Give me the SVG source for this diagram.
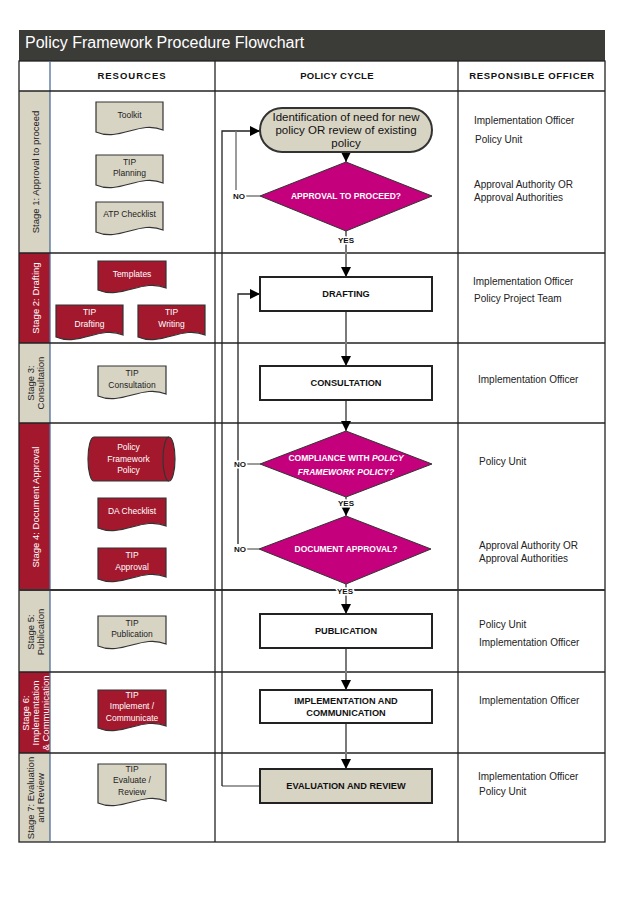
<svg xmlns="http://www.w3.org/2000/svg" width="636" height="900" viewBox="0 0 636 900">
<style>
text{font-family:"Liberation Sans",Arial,sans-serif;}
.grid{stroke:#222;stroke-width:1.3;fill:none;}
.tan{fill:#d8d4c4;stroke:#333;stroke-width:1.2;}
.red{fill:#a4182e;stroke:#333;stroke-width:1.2;}
.rt{font-size:8.5px;fill:#222;text-anchor:middle;}
.wt{font-size:8.5px;fill:#fff;text-anchor:middle;}
.hdr{font-size:9.5px;font-weight:bold;fill:#111;text-anchor:middle;}
.stg{font-size:9.5px;text-anchor:middle;}
.box{fill:#fff;stroke:#222;stroke-width:2;}
.boxt{font-size:9.2px;font-weight:bold;fill:#111;text-anchor:middle;}
.dia{fill:#c4007c;stroke:#333;stroke-width:1;}
.diat{font-size:8.5px;font-weight:bold;fill:#fff;text-anchor:middle;}
.off{font-size:10px;fill:#222;}
.flow{stroke:#7a7a7a;stroke-width:2;fill:none;}
.loop{stroke:#222;stroke-width:1.3;fill:none;}
.stub{stroke:#7a7a7a;stroke-width:1.5;fill:none;}
.lbl{font-size:8px;font-weight:bold;fill:#111;text-anchor:middle;stroke:#fff;stroke-width:3;paint-order:stroke;}
</style>
<defs>
<marker id="arr" viewBox="0 0 10 10" refX="10" refY="5" markerUnits="userSpaceOnUse" markerWidth="10" markerHeight="10" orient="auto">
<path d="M0,0 L10,5 L0,10 z" fill="#000"/>
</marker>
</defs>
<rect x="0" y="0" width="636" height="900" fill="#fff"/>

<g id="title">
<rect x="19" y="30" width="586" height="31" fill="#3b3b38"/>
<text x="25" y="48" font-size="16" fill="#fff">Policy Framework Procedure Flowchart</text>
</g>

<g id="table">
<rect x="19" y="91" width="31" height="162" fill="#d8d4c4"/>
<rect x="19" y="253" width="31" height="90" fill="#a4182e"/>
<rect x="19" y="343" width="31" height="80" fill="#d8d4c4"/>
<rect x="19" y="423" width="31" height="167" fill="#a4182e"/>
<rect x="19" y="590" width="31" height="82" fill="#d8d4c4"/>
<rect x="19" y="672" width="31" height="81" fill="#a4182e"/>
<rect x="19" y="753" width="31" height="89" fill="#d8d4c4"/>
<rect x="19" y="61" width="586" height="781" class="grid"/>
<line x1="50" y1="61" x2="50" y2="842" stroke="#4f6f98" stroke-width="1.3"/>
<line x1="215" y1="61" x2="215" y2="842" class="grid"/>
<line x1="458" y1="61" x2="458" y2="842" class="grid"/>
<line x1="19" y1="91" x2="605" y2="91" class="grid"/>
<line x1="19" y1="253" x2="605" y2="253" class="grid"/>
<line x1="19" y1="343" x2="605" y2="343" class="grid"/>
<line x1="19" y1="423" x2="605" y2="423" class="grid"/>
<line x1="19" y1="590" x2="605" y2="590" stroke="#333" stroke-width="2"/>
<line x1="19" y1="672" x2="605" y2="672" class="grid"/>
<line x1="19" y1="753" x2="605" y2="753" class="grid"/>
<text x="132" y="79" class="hdr" letter-spacing="1">RESOURCES</text>
<text x="337" y="79" class="hdr" letter-spacing="0.3">POLICY CYCLE</text>
<text x="532" y="79" class="hdr" letter-spacing="0.7">RESPONSIBLE OFFICER</text>
</g>

<g id="stage-labels">
<text class="stg" fill="#222" transform="translate(38.5,172) rotate(-90)">Stage 1: Approval to proceed</text>
<text class="stg" fill="#fff" transform="translate(39,298) rotate(-90)">Stage 2: Drafting</text>
<text class="stg" fill="#222" transform="translate(33.5,383) rotate(-90)">Stage 3:</text>
<text class="stg" fill="#222" transform="translate(43.5,383) rotate(-90)">Consultation</text>
<text class="stg" fill="#fff" transform="translate(38.5,507) rotate(-90)">Stage 4: Document Approval</text>
<text class="stg" fill="#222" transform="translate(33.5,632) rotate(-90)">Stage 5:</text>
<text class="stg" fill="#222" transform="translate(43.5,632) rotate(-90)">Publication</text>
<text class="stg" fill="#fff" transform="translate(28.5,713) rotate(-90)">Stage 6:</text>
<text class="stg" fill="#fff" transform="translate(38.5,713) rotate(-90)">Implementation</text>
<text class="stg" fill="#fff" transform="translate(49,713) rotate(-90)">&amp; Communication</text>
<text class="stg" fill="#222" transform="translate(33.5,798) rotate(-90)">Stage 7: Evaluation</text>
<text class="stg" fill="#222" transform="translate(43.5,798) rotate(-90)">and Review</text>
</g>

<g id="res-toolkit">
<path class="tan" d="M96,102 H163 V130 C139.6,120 119.5,142 96,132 Z"/>
<text class="rt" x="129.5" y="118">Toolkit</text>
</g>
<g id="res-tip-planning">
<path class="tan" d="M96,155 H163 V183 C139.6,173 119.5,195 96,185 Z"/>
<text class="rt" x="129.5" y="165">TIP</text>
<text class="rt" x="129.5" y="176">Planning</text>
</g>
<g id="res-atp-checklist">
<path class="tan" d="M96,202 H163 V230 C139.6,220 119.5,242 96,232 Z"/>
<text class="rt" x="129.5" y="217">ATP Checklist</text>
</g>
<g id="res-templates">
<path class="red" d="M98,261 H166 V288 C142.2,278 121.8,300 98,290 Z"/>
<text class="wt" x="132" y="277">Templates</text>
</g>
<g id="res-tip-drafting">
<path class="red" d="M56,305 H123 V335 C99.6,325 79.5,347 56,337 Z"/>
<text class="wt" x="89.5" y="315">TIP</text>
<text class="wt" x="89.5" y="327">Drafting</text>
</g>
<g id="res-tip-writing">
<path class="red" d="M138,305 H205 V335 C181.6,325 161.5,347 138,337 Z"/>
<text class="wt" x="171.5" y="315">TIP</text>
<text class="wt" x="171.5" y="327">Writing</text>
</g>
<g id="res-tip-consultation">
<path class="tan" d="M98,366 H166 V394 C142.2,384 121.8,406 98,396 Z"/>
<text class="rt" x="132" y="376">TIP</text>
<text class="rt" x="132" y="388">Consultation</text>
</g>
<g id="res-policy-framework-policy">
<path class="red" d="M94,437 H169 A6,22 0 0 1 169,481 H94 A6,22 0 0 1 94,437 Z"/>
<path d="M169,437 A6,22 0 0 0 169,481" fill="none" stroke="#333" stroke-width="1.2"/>
<text class="wt" x="128.5" y="450">Policy</text>
<text class="wt" x="128.5" y="462">Framework</text>
<text class="wt" x="128.5" y="473">Policy</text>
</g>
<g id="res-da-checklist">
<path class="red" d="M98,498 H166 V526 C142.2,516 121.8,538 98,528 Z"/>
<text class="wt" x="132" y="514">DA Checklist</text>
</g>
<g id="res-tip-approval">
<path class="red" d="M98,548 H166 V577 C142.2,567 121.8,589 98,579 Z"/>
<text class="wt" x="132" y="558">TIP</text>
<text class="wt" x="132" y="570">Approval</text>
</g>
<g id="res-tip-publication">
<path class="tan" d="M98,616 H166 V644 C142.2,634 121.8,656 98,646 Z"/>
<text class="rt" x="132" y="626">TIP</text>
<text class="rt" x="132" y="637">Publication</text>
</g>
<g id="res-tip-implement">
<path class="red" d="M98,690 H166 V726 C142.2,716 121.8,738 98,728 Z"/>
<text class="wt" x="132" y="698">TIP</text>
<text class="wt" x="132" y="709">Implement /</text>
<text class="wt" x="132" y="721">Communicate</text>
</g>
<g id="res-tip-evaluate">
<path class="tan" d="M98,764 H166 V801 C142.2,791 121.8,813 98,803 Z"/>
<text class="rt" x="132" y="772">TIP</text>
<text class="rt" x="132" y="783">Evaluate /</text>
<text class="rt" x="132" y="795">Review</text>
</g>

<g id="connectors">
<line x1="346" y1="152" x2="346" y2="162" class="loop" marker-end="url(#arr)"/>
<line x1="346" y1="231" x2="346" y2="277" class="flow" marker-end="url(#arr)"/>
<line x1="346" y1="311" x2="346" y2="366" class="flow" marker-end="url(#arr)"/>
<line x1="346" y1="400" x2="346" y2="431" class="flow" marker-end="url(#arr)"/>
<line x1="346" y1="497" x2="346" y2="516" class="flow" marker-end="url(#arr)"/>
<line x1="346" y1="584" x2="346" y2="614" class="flow" marker-end="url(#arr)"/>
<line x1="346" y1="648" x2="346" y2="690" class="flow" marker-end="url(#arr)"/>
<line x1="346" y1="723" x2="346" y2="769" class="flow" marker-end="url(#arr)"/>
<polyline points="260,786 222,786" class="stub"/>
<polyline points="222,786 222,131 260,131" class="loop" marker-end="url(#arr)"/>
<polyline points="260,196 245,196" class="stub"/>
<polyline points="236,190 236,131" class="stub"/>
<polyline points="260,464 246,464" class="stub"/>
<polyline points="259,549 246,549" class="stub"/>
<polyline points="238,544 238,294 260,294" class="loop" marker-end="url(#arr)"/>
<text class="lbl" x="239" y="199">NO</text>
<text class="lbl" x="240" y="467">NO</text>
<text class="lbl" x="240" y="552">NO</text>
<text class="lbl" x="346" y="243">YES</text>
<text class="lbl" x="346" y="506">YES</text>
<text class="lbl" x="345" y="594">YES</text>
</g>

<g id="identification">
<rect x="260" y="108" width="172" height="44" rx="22" ry="22" fill="#d8d4c4" stroke="#333" stroke-width="2"/>
<text x="346" y="121" font-size="11.5" fill="#111" text-anchor="middle">Identification of need for new</text>
<text x="346" y="134" font-size="11.5" fill="#111" text-anchor="middle">policy OR review of existing</text>
<text x="346" y="147" font-size="11.5" fill="#111" text-anchor="middle">policy</text>
</g>
<g id="approval-to-proceed">
<polygon class="dia" points="346,162 432,196 346,231 260,196"/>
<text class="diat" x="346" y="199">APPROVAL TO PROCEED?</text>
</g>
<g id="drafting">
<rect class="box" x="260" y="277" width="172" height="34"/>
<text class="boxt" x="346" y="297">DRAFTING</text>
</g>
<g id="consultation">
<rect class="box" x="260" y="366" width="172" height="34"/>
<text class="boxt" x="346" y="386">CONSULTATION</text>
</g>
<g id="compliance">
<polygon class="dia" points="346,431 432,464 346,497 260,464"/>
<text class="diat" x="346" y="461">COMPLIANCE WITH <tspan font-style="italic">POLICY</tspan></text>
<text class="diat" x="346" y="475" font-style="italic">FRAMEWORK POLICY?</text>
</g>
<g id="document-approval">
<polygon class="dia" points="346,516 431,549 346,584 259,549"/>
<text class="diat" x="346" y="552">DOCUMENT APPROVAL?</text>
</g>
<g id="publication">
<rect class="box" x="260" y="614" width="172" height="34"/>
<text class="boxt" x="346" y="634">PUBLICATION</text>
</g>
<g id="implementation">
<rect class="box" x="260" y="690" width="172" height="33"/>
<text class="boxt" x="346" y="704">IMPLEMENTATION AND</text>
<text class="boxt" x="346" y="716">COMMUNICATION</text>
</g>
<g id="evaluation">
<rect x="260" y="769" width="172" height="34" fill="#d8d4c4" stroke="#222" stroke-width="2"/>
<text class="boxt" x="346" y="789">EVALUATION AND REVIEW</text>
</g>

<g id="officers">
<text class="off" x="474" y="124" font-size="10.5">Implementation Officer</text>
<text class="off" x="475" y="143">Policy Unit</text>
<text class="off" x="474" y="188">Approval Authority OR</text>
<text class="off" x="474" y="201">Approval Authorities</text>
<text class="off" x="473" y="285" font-size="10.5">Implementation Officer</text>
<text class="off" x="474" y="302" font-size="9.5">Policy Project Team</text>
<text class="off" x="478" y="383">Implementation Officer</text>
<text class="off" x="479" y="465">Policy Unit</text>
<text class="off" x="479" y="549">Approval Authority OR</text>
<text class="off" x="479" y="562">Approval Authorities</text>
<text class="off" x="479" y="628">Policy Unit</text>
<text class="off" x="479" y="646">Implementation Officer</text>
<text class="off" x="479" y="704">Implementation Officer</text>
<text class="off" x="478" y="780">Implementation Officer</text>
<text class="off" x="479" y="795">Policy Unit</text>
</g>
</svg>
